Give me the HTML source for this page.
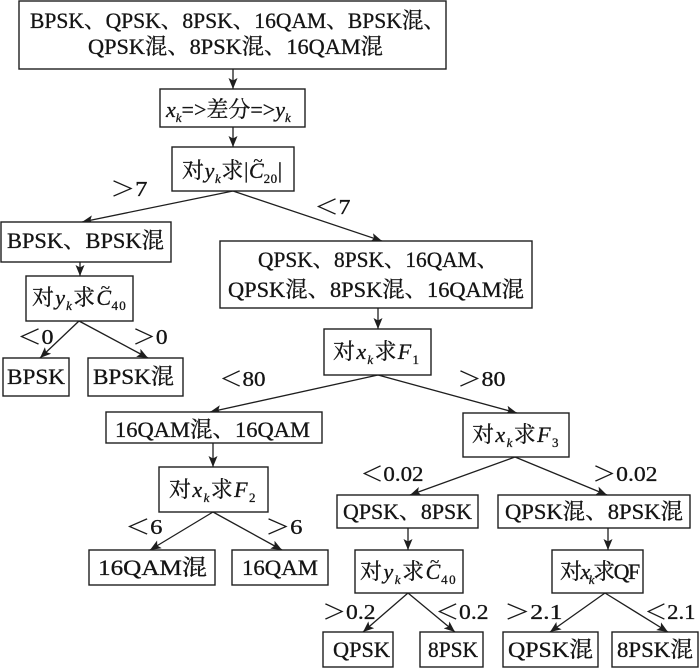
<!DOCTYPE html>
<html><head><meta charset="utf-8">
<style>
html,body{margin:0;padding:0;background:#fff;}
svg{display:block;}
text{font-family:"Liberation Serif","Noto Serif CJK SC",serif;font-size:22px;fill:#141414;stroke:#141414;stroke-width:0.3;}
.i{font-style:italic;}
.s{font-size:13px;}
.lb{font-size:21px;}
.bx{fill:#fff;stroke:#1e1e1e;stroke-width:1.4;}
.ln{stroke:#1e1e1e;stroke-width:1.3;fill:none;marker-end:url(#ah);}
</style></head>
<body>
<svg width="700" height="668" viewBox="0 0 700 668" xmlns="http://www.w3.org/2000/svg">
<defs>
<marker id="ah" markerUnits="userSpaceOnUse" markerWidth="11" markerHeight="9" refX="11" refY="4.5" orient="auto">
<path d="M0,0 L11,4.5 L0,9 L2.5,4.5 z" fill="#1e1e1e"/>
</marker>
</defs>

<!-- connectors -->
<line class="ln" x1="233" y1="69" x2="233" y2="89"/>
<line class="ln" x1="233" y1="127" x2="233" y2="147"/>
<line class="ln" x1="233" y1="191" x2="82" y2="222"/>
<line class="ln" x1="233" y1="191" x2="382" y2="241"/>
<line class="ln" x1="80" y1="262" x2="80" y2="276"/>
<line class="ln" x1="79" y1="321" x2="40" y2="358"/>
<line class="ln" x1="79" y1="321" x2="148" y2="358"/>
<line class="ln" x1="378" y1="308" x2="378" y2="329"/>
<line class="ln" x1="378" y1="375" x2="210" y2="412"/>
<line class="ln" x1="378" y1="375" x2="517" y2="413"/>
<line class="ln" x1="213" y1="443" x2="213" y2="467"/>
<line class="ln" x1="213" y1="512" x2="150" y2="550"/>
<line class="ln" x1="213" y1="512" x2="282" y2="550"/>
<line class="ln" x1="515" y1="457" x2="410" y2="495"/>
<line class="ln" x1="515" y1="457" x2="607" y2="495"/>
<line class="ln" x1="408" y1="528" x2="408" y2="550"/>
<line class="ln" x1="608" y1="528" x2="608" y2="550"/>
<line class="ln" x1="408" y1="593" x2="363" y2="632"/>
<line class="ln" x1="408" y1="593" x2="455" y2="632"/>
<line class="ln" x1="605" y1="593" x2="550" y2="632"/>
<line class="ln" x1="605" y1="593" x2="668" y2="632"/>

<!-- boxes -->
<rect class="bx" x="19" y="1" width="427" height="68"/>
<rect class="bx" x="160" y="89" width="145" height="38"/>
<rect class="bx" x="172" y="147" width="122" height="44"/>
<rect class="bx" x="1" y="222" width="170" height="40"/>
<rect class="bx" x="26" y="276" width="107" height="45"/>
<rect class="bx" x="220" y="241" width="312" height="67"/>
<rect class="bx" x="3" y="358" width="66" height="38"/>
<rect class="bx" x="88" y="358" width="95" height="38"/>
<rect class="bx" x="324" y="329" width="107" height="46"/>
<rect class="bx" x="106" y="412" width="216" height="31"/>
<rect class="bx" x="159" y="467" width="109" height="45"/>
<rect class="bx" x="89" y="550" width="126" height="35"/>
<rect class="bx" x="232" y="550" width="96" height="35"/>
<rect class="bx" x="463" y="413" width="106" height="44"/>
<rect class="bx" x="337" y="495" width="141" height="33"/>
<rect class="bx" x="498" y="495" width="192" height="33"/>
<rect class="bx" x="355" y="550" width="108" height="43"/>
<rect class="bx" x="552" y="550" width="91" height="43"/>
<rect class="bx" x="323" y="632" width="70" height="35"/>
<rect class="bx" x="420" y="632" width="63" height="35"/>
<rect class="bx" x="503" y="632" width="95" height="35"/>
<rect class="bx" x="612" y="632" width="86" height="35"/>

<!-- plain box texts -->
<text x="30" y="28" textLength="415" lengthAdjust="spacingAndGlyphs">BPSK、QPSK、8PSK、16QAM、BPSK混、</text>
<text x="88" y="54" textLength="295" lengthAdjust="spacingAndGlyphs">QPSK混、8PSK混、16QAM混</text>
<text x="7" y="248" textLength="157" lengthAdjust="spacingAndGlyphs">BPSK、BPSK混</text>
<text x="258" y="267" textLength="240" lengthAdjust="spacingAndGlyphs">QPSK、8PSK、16QAM、</text>
<text x="228" y="297" textLength="296" lengthAdjust="spacingAndGlyphs">QPSK混、8PSK混、16QAM混</text>
<text x="7" y="384" textLength="58" lengthAdjust="spacingAndGlyphs">BPSK</text>
<text x="93" y="384" textLength="81" lengthAdjust="spacingAndGlyphs">BPSK混</text>
<text x="115" y="437" textLength="195" lengthAdjust="spacingAndGlyphs">16QAM混、16QAM</text>
<text x="98" y="575" textLength="109" lengthAdjust="spacingAndGlyphs">16QAM混</text>
<text x="242" y="575" textLength="76" lengthAdjust="spacingAndGlyphs">16QAM</text>
<text x="343" y="519" textLength="129" lengthAdjust="spacingAndGlyphs">QPSK、8PSK</text>
<text x="505" y="519" textLength="178" lengthAdjust="spacingAndGlyphs">QPSK混、8PSK混</text>
<text x="333" y="657" textLength="57" lengthAdjust="spacingAndGlyphs">QPSK</text>
<text x="428" y="657" textLength="50" lengthAdjust="spacingAndGlyphs">8PSK</text>
<text x="508" y="657" textLength="85" lengthAdjust="spacingAndGlyphs">QPSK混</text>
<text x="617" y="657" textLength="76" lengthAdjust="spacingAndGlyphs">8PSK混</text>

<!-- rich texts -->
<text x="166" y="117"><tspan class="i">x</tspan><tspan class="s i" dy="5">k</tspan><tspan dy="-5">=&gt;差分=&gt;</tspan><tspan class="i">y</tspan><tspan class="s i" dy="5">k</tspan></text>

<text x="182" y="178" style="letter-spacing:0.6px">对<tspan class="i">y</tspan><tspan class="s i" dy="5">k</tspan><tspan dy="-5">求|</tspan><tspan class="i">C</tspan><tspan font-size="17" dx="-10.9" dy="-12">~</tspan><tspan class="s" dx="0.4" dy="17">20</tspan><tspan dy="-5">|</tspan></text>

<text x="32" y="305" style="letter-spacing:1.2px">对<tspan class="i">y</tspan><tspan class="s i" dy="5">k</tspan><tspan dy="-5">求</tspan><tspan class="i">C</tspan><tspan font-size="17" dx="-11.5" dy="-12">~</tspan><tspan class="s" dx="0.4" dy="17">40</tspan></text>

<text x="360" y="579" style="letter-spacing:1.5px">对<tspan class="i">y</tspan><tspan class="s i" dy="5">k</tspan><tspan dy="-5">求</tspan><tspan class="i">C</tspan><tspan font-size="17" dx="-11.8" dy="-12">~</tspan><tspan class="s" dx="0.4" dy="17">40</tspan></text>

<text x="333" y="359" style="letter-spacing:1.3px">对<tspan class="i">x</tspan><tspan class="s i" dy="5">k</tspan><tspan dy="-5">求</tspan><tspan class="i">F</tspan><tspan class="s" dy="5">1</tspan></text>
<text x="169" y="497" style="letter-spacing:1.4px">对<tspan class="i">x</tspan><tspan class="s i" dy="5">k</tspan><tspan dy="-5">求</tspan><tspan class="i">F</tspan><tspan class="s" dy="5">2</tspan></text>
<text x="472" y="442" style="letter-spacing:1.4px">对<tspan class="i">x</tspan><tspan class="s i" dy="5">k</tspan><tspan dy="-5">求</tspan><tspan class="i">F</tspan><tspan class="s" dy="5">3</tspan></text>
<text x="560" y="579" style="letter-spacing:-1.5px">对<tspan class="i">x</tspan><tspan class="s i" dy="5">k</tspan><tspan dy="-5">求QF</tspan></text>

<!-- edge labels -->
<text class="lb" x="110.5" y="196" textLength="37" lengthAdjust="spacingAndGlyphs">＞7</text>
<text class="lb" x="314.5" y="214" textLength="36" lengthAdjust="spacingAndGlyphs">＜7</text>
<text class="lb" x="17.5" y="344" textLength="36" lengthAdjust="spacingAndGlyphs">＜0</text>
<text class="lb" x="132.5" y="344" textLength="35" lengthAdjust="spacingAndGlyphs">＞0</text>
<text class="lb" x="219.5" y="386" textLength="46" lengthAdjust="spacingAndGlyphs">＜80</text>
<text class="lb" x="457.5" y="386" textLength="48" lengthAdjust="spacingAndGlyphs">＞80</text>
<text class="lb" x="125.5" y="534" textLength="37" lengthAdjust="spacingAndGlyphs">＜6</text>
<text class="lb" x="265.5" y="534" textLength="37" lengthAdjust="spacingAndGlyphs">＞6</text>
<text class="lb" x="360.5" y="481" textLength="63" lengthAdjust="spacingAndGlyphs">＜0.02</text>
<text class="lb" x="592.5" y="481" textLength="65" lengthAdjust="spacingAndGlyphs">＞0.02</text>
<text class="lb" x="322.5" y="619" textLength="53" lengthAdjust="spacingAndGlyphs">＞0.2</text>
<text class="lb" x="435.5" y="619" textLength="53" lengthAdjust="spacingAndGlyphs">＜0.2</text>
<text class="lb" x="504.5" y="619" textLength="58" lengthAdjust="spacingAndGlyphs">＞2.1</text>
<text class="lb" x="644.5" y="619" textLength="51" lengthAdjust="spacingAndGlyphs">＜2.1</text>
</svg>
</body></html>
